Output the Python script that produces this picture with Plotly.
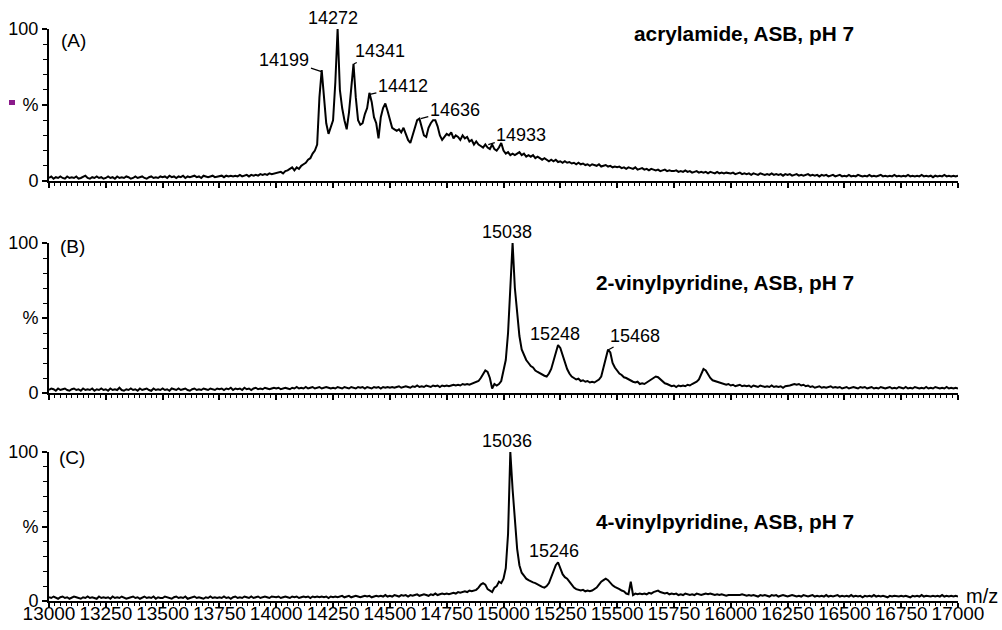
import plotly.graph_objects as go

# m/z grid (10 Da steps)
mz = list(range(13000, 17001, 10))

# (A) acrylamide, ASB, pH 7 -- relative intensity (%)
int_A = (
    [2, 3, 1.5, 2.5, 2, 3, 2, 1.5, 3, 2, 2.5, 2, 3, 1.5, 2, 2.5, 3.5, 2, 1.5, 2.5, 2, 3, 2, 2.5, 1.5]
    + [2, 3, 2, 2.5, 1.5, 3, 2, 2.5, 2, 3, 2.5, 1.5, 2, 3, 2, 2.5, 3, 2, 1.5, 2.5, 3, 2, 2.5, 2, 3]
    + [2.5, 3, 2, 3.5, 2.5, 3, 2, 3, 2.5, 3.5, 2, 3, 2.5, 3, 3.5, 2.5, 3, 2, 3.5, 3, 2.5, 3, 3.5, 2.5, 3]
    + [3, 3.5, 2.5, 3.5, 3, 3.5, 3, 3.5, 3, 4, 3, 3.5, 4, 3, 4, 3.5, 4, 3.5, 4.5, 4, 4.5, 4, 5, 4.5, 5]
    + [5, 5.5, 6, 5, 6.5, 7, 8, 9, 7, 9, 8, 10, 11, 12, 14, 15, 18, 20, 24, 55, 73, 55, 38, 31, 36]
    + [40, 65, 100, 60, 48, 40, 34, 45, 62, 77, 55, 40, 37, 38, 44, 48, 58, 52, 42, 38, 28, 42, 48, 51, 46]
    + [40, 35, 34, 33, 34, 32, 35, 31, 27, 25, 30, 36, 40, 41, 35, 30, 29, 35, 38, 40, 40, 36, 30, 27, 29]
    + [31, 30, 32, 28, 30, 29, 27, 30, 28, 29, 26, 27, 24, 26, 24, 23, 22, 24, 22, 21, 24, 21, 20, 22, 25]
    + [20, 18, 19, 17, 18, 17, 18, 19, 17, 18, 16, 17, 16, 17, 15, 16, 15, 14, 15, 14, 13, 14, 13, 14, 12.5]
    + [13, 12, 13, 12, 12.5, 11.5, 12, 11, 12, 11, 11.5, 10.5, 11, 10, 11, 10.5, 10, 11, 9.5, 10, 10.5, 9.5, 10, 9, 9.5]
    + [9, 9.5, 8.5, 9, 8, 9, 8.5, 8, 9, 7.5, 8, 8.5, 7.5, 8, 7, 8, 7.5, 7, 7.5, 6.5, 7, 7.5, 6.5, 7, 6.5]
    + [6.5, 7, 6, 6.5, 6, 7, 6, 6.5, 5.5, 6, 6.5, 5.5, 6, 5.5, 6, 5, 6, 5.5, 5, 6, 5, 5.5, 5, 5.5, 5]
    + [5, 5.5, 4.5, 5, 5.5, 4.5, 5, 4.5, 5, 4, 5, 4.5, 4, 5, 4.5, 4, 4.5, 4, 5, 4, 4.5, 4, 4.5, 3.5, 4.5]
    + [4, 4.5, 3.5, 4, 4.5, 3.5, 4, 3.5, 4, 4.5, 3.5, 4, 3.5, 4, 3, 4, 3.5, 4, 3, 3.5, 4, 3, 3.5, 4, 3]
    + [3.5, 3, 4, 3, 3.5, 3, 4, 3.5, 3, 3.5, 3, 4, 3, 3.5, 3, 3.5, 4, 3, 3.5, 3, 3.5, 3, 4, 3, 3.5]
    + [3, 3.5, 3, 4, 3, 3.5, 3, 3.5, 3, 4, 3, 3.5, 3, 3.5, 2.5, 3.5, 3, 3.5, 3, 4, 3, 3.5, 3, 3.5, 3]
    + [3.5]
)

# (B) 2-vinylpyridine, ASB, pH 7
int_B = (
    [2, 3, 2.5, 1.5, 3, 2, 2.5, 3, 2, 1.5, 2.5, 3, 2, 2.5, 1.5, 3, 2, 2.5, 2, 3, 1.5, 2.5, 2, 3, 2]
    + [2.5, 1.5, 3, 2, 2.5, 2, 3.5, 2, 1.5, 2.5, 2, 3, 2, 2.5, 1.5, 3, 2, 2.5, 3, 2, 1.5, 3, 2, 2.5, 2]
    + [3, 2, 2.5, 1.5, 3, 2.5, 2, 3, 2, 2.5, 3, 2, 1.5, 2.5, 3, 2, 2.5, 2, 3, 2.5, 2, 3, 2.5, 2, 3]
    + [2.5, 3, 2, 3, 2.5, 3.5, 2, 3, 2.5, 3, 2, 3.5, 2.5, 3, 2, 3, 3.5, 2.5, 3, 2.5, 3.5, 3, 2.5, 3, 3.5]
    + [3, 3.5, 2.5, 3, 3.5, 3, 2.5, 3.5, 3, 4, 3, 3.5, 3, 4, 3, 3.5, 4, 3, 3.5, 4, 3, 3.5, 4, 3.5, 3]
    + [3.5, 3, 4, 3.5, 3, 4, 3.5, 3, 4, 3.5, 3, 4, 3.5, 4, 3, 4, 3.5, 3, 4, 3.5, 4, 3, 4, 3.5, 4]
    + [3.5, 4, 3.5, 4, 4.5, 3.5, 4, 4.5, 4, 3.5, 4.5, 4, 5, 4, 4.5, 4, 5, 4.5, 4, 5, 4.5, 5, 4, 5, 4.5]
    + [5, 4.5, 5, 5.5, 5, 5.5, 5, 6, 5.5, 6, 5.5, 6, 6.5, 7, 8, 10, 13, 15, 14, 10, 3, 6, 5, 6, 8]
    + [14, 22, 40, 75, 100, 70, 52, 38, 29, 25, 22, 20, 18, 17, 15, 14, 13, 12, 11.5, 11, 13, 16, 22, 28, 32]
    + [30, 25, 20, 16, 13, 11, 10, 9, 9.5, 8, 8.5, 7.5, 8, 7, 7.5, 7, 8, 9, 11, 17, 24, 29, 27, 20, 17]
    + [15, 13, 12, 10.5, 10, 9, 8.5, 7.5, 7, 7.5, 6, 6.5, 6, 7, 8, 9, 10, 11, 10.5, 9, 7.5, 6.5, 6, 5, 4.5]
    + [5, 4, 5, 4.5, 5, 4.5, 5.5, 5, 6, 6.5, 7.5, 9, 12, 16, 15, 12, 10, 8.5, 8, 7.5, 7, 6.5, 6, 5.5, 6]
    + [5, 5.5, 4.5, 5, 5.5, 4.5, 5, 4.5, 5, 4, 5, 4.5, 4, 5, 4.5, 4, 4.5, 4, 5, 4, 4.5, 4, 4.5, 3.5, 4.5]
    + [4.5, 5, 5.5, 6, 5.5, 6, 5, 5.5, 4.5, 5, 4, 4.5, 3.5, 4, 4.5, 3.5, 4, 3.5, 4, 4.5, 3.5, 4, 3.5, 4, 3]
    + [3.5, 4, 3, 3.5, 4, 3.5, 3, 4, 3.5, 4, 3, 3.5, 4, 3, 3.5, 3, 4, 3.5, 3, 3.5, 4, 3, 3.5, 3, 4]
    + [3.5, 3, 4, 3, 3.5, 3, 4, 3.5, 3, 3.5, 3, 4, 3, 3.5, 3, 4, 3.5, 3, 3.5, 3, 4, 3, 3.5, 3, 3.5]
    + [3]
)

# (C) 4-vinylpyridine, ASB, pH 7
int_C = (
    [2.5, 2, 3, 2, 1.5, 2.5, 3, 2, 2.5, 1.5, 2, 3, 2.5, 2, 1.5, 2.5, 2, 3, 2, 2.5, 2, 1.5, 3, 2, 2.5]
    + [2, 2.5, 1.5, 3, 2, 2.5, 2, 3, 2.5, 1.5, 2, 2.5, 3, 2, 2.5, 1.5, 2, 3, 2, 2.5, 2, 3, 1.5, 2.5, 2]
    + [2, 3, 2.5, 2, 1.5, 2.5, 3, 2, 2.5, 2, 3, 1.5, 2, 2.5, 3, 2, 2.5, 2, 1.5, 2.5, 2, 3, 2, 2.5, 2]
    + [2.5, 2, 3, 2, 2.5, 1.5, 2.5, 3, 2, 2.5, 2, 3, 2.5, 2, 3, 2, 2.5, 3, 2, 2.5, 3, 2.5, 2, 3, 2.5]
    + [2.5, 3, 2, 2.5, 3, 2.5, 2, 3, 2.5, 3, 2, 2.5, 3, 2.5, 3, 2, 3, 2.5, 3, 2.5, 3, 2.5, 3, 2, 3]
    + [2.5, 3, 2.5, 3, 3.5, 2.5, 3, 3.5, 2.5, 3, 3.5, 3, 2.5, 3, 3.5, 3, 3.5, 2.5, 3, 3.5, 3, 3.5, 3, 4, 3]
    + [3.5, 3, 4, 3.5, 3, 4, 3.5, 4, 3, 4, 3.5, 4, 4.5, 3.5, 4, 4.5, 4, 3.5, 4.5, 4, 5, 4, 4.5, 5, 4.5]
    + [5, 4.5, 5, 5.5, 5, 6, 5.5, 6, 6.5, 6, 7, 6.5, 7, 7.5, 9, 11, 12, 11, 8, 7, 6, 9, 10, 13, 12]
    + [15, 22, 45, 100, 75, 54, 35, 24, 19, 17, 15, 14, 13, 12.5, 12, 11, 10, 9.5, 9, 10, 12, 16, 21, 24, 26]
    + [22, 18, 16, 15, 13, 11, 9, 8, 7.5, 7, 7.5, 6.5, 7, 6.5, 7, 8, 9, 11, 13, 14, 15, 14, 12, 10.5, 9.5]
    + [9, 8, 7, 6.5, 5, 4.5, 13, 4, 5, 4.5, 5, 4.5, 5, 4.5, 5.5, 5, 6, 6.5, 7, 6, 5.5, 5, 5.5, 4.5, 5]
    + [4.5, 5, 4, 4.5, 4, 5, 4.5, 4, 4.5, 4, 5, 4.5, 4, 4.5, 5, 4.5, 5, 4.5, 4, 4.5, 4, 4.5, 4, 3.5, 4]
    + [4, 3.5, 4, 3.5, 4, 4.5, 4, 3.5, 4, 3.5, 4, 3.5, 3, 4, 3.5, 4, 3.5, 3, 4, 3.5, 4, 3, 3.5, 4, 3.5]
    + [3, 3.5, 4, 3.5, 3, 3.5, 3, 4, 3.5, 3, 3.5, 4, 3, 3.5, 3, 3.5, 3, 4, 3, 3.5, 3, 3.5, 4, 3, 3.5]
    + [3, 3.5, 3, 4, 3, 3.5, 3, 3.5, 2.5, 3.5, 3, 3.5, 3, 4, 3, 3.5, 3, 3.5, 3, 2.5, 3.5, 3, 3.5, 3, 3]
    + [3.5, 3, 3.5, 3, 2.5, 3.5, 3, 3.5, 3, 4, 3, 3.5, 3, 3, 3.5, 3, 3.5, 3, 4, 3, 3.5, 3, 3.5, 3, 3.5]
    + [3]
)

panel_titles = ["acrylamide, ASB, pH 7", "2-vinylpyridine, ASB, pH 7", "4-vinylpyridine, ASB, pH 7"]
panel_letters = ["(A)", "(B)", "(C)"]
x_tickvals = list(range(13000, 17001, 250))
x_ticktext = [str(v) for v in x_tickvals]
y_tickvals = [0, 50, 100]
y_ticktext = ["0", "%", "100"]

# peak labels: (panel, label text, m/z, intensity, arrow dx, arrow dy)
peak_labels = [
    (0, "14199", 14199, 72, -37, -13),
    (0, "14272", 14272, 100, None, None),
    (0, "14341", 14341, 77, 26, -14),
    (0, "14412", 14412, 57, 33, -9),
    (0, "14636", 14636, 41, 34, -10),
    (0, "14933", 14933, 24, 33, -11),
    (1, "15038", 15038, 100, None, None),
    (1, "15248", 15248, 32, None, None),
    (1, "15468", 15464, 29, 26, -15),
    (2, "15036", 15036, 100, None, None),
    (2, "15246", 15246, 26, None, None),
]

# the page body margin is removed by the post script below, so the figure fills the window
W, H = 1002, 630
ML = 49
PW = 909
MR = W - ML - PW
FONT = "Liberation Sans, Arial, Helvetica, sans-serif"


def px_x(p):
    return (p - ML) / PW


def px_y(p):
    return 1 - p / H


# window y pixel positions (value 0, value 100) for the three panels
panel_px = [(181, 29), (393, 243), (601, 452)]

fig = go.Figure()
series = [int_A, int_B, int_C]
for i, ys in enumerate(series):
    sfx = "" if i == 0 else str(i + 1)
    fig.add_trace(go.Scatter(
        x=mz, y=ys, mode="lines", xaxis="x" + sfx, yaxis="y" + sfx,
        line=dict(color="black", width=2), showlegend=False, hoverinfo="skip",
    ))

layout = dict(
    width=W, height=H,
    margin=dict(l=ML, r=MR, t=0, b=0, autoexpand=False),
    paper_bgcolor="white", plot_bgcolor="white",
    font=dict(family=FONT, size=18, color="black"),
    showlegend=False,
)

for i in range(3):
    sfx = "" if i == 0 else str(i + 1)
    y0p, y1p = panel_px[i]
    layout["xaxis" + sfx] = dict(
        domain=[0, 1], anchor="y" + sfx, range=[13000, 17000],
        showline=True, linecolor="black", linewidth=2,
        ticks="outside", ticklen=5, tickwidth=1.5, tickcolor="black",
        tickvals=x_tickvals, ticktext=x_ticktext, showticklabels=(i == 2),
        tickfont=dict(family=FONT, size=19, color="black"),
        ticklabelstandoff=-11,
        minor=dict(dtick=25, tick0=13000, ticks="outside", ticklen=3, tickwidth=1, tickcolor="black", showgrid=False),
        showgrid=False, zeroline=False, automargin=False,
        **({} if i == 0 else {"matches": "x"}),
    )
    layout["yaxis" + sfx] = dict(
        domain=[px_y(y0p), px_y(y1p)], anchor="x" + sfx, range=[0, 100],
        showline=True, linecolor="black", linewidth=2,
        ticks="outside", ticklen=5, tickwidth=1.5, tickcolor="black",
        tickvals=y_tickvals, ticktext=y_ticktext,
        tickfont=dict(family=FONT, size=18, color="black"),
        minor=dict(dtick=10, ticks="outside", ticklen=4, tickwidth=1, tickcolor="black", showgrid=False),
        showgrid=False, zeroline=False, automargin=False,
    )

fig.update_layout(**layout)

annotations = []
title_y = [33, 282, 521]
letter_pos = [(73, 40), (72, 247), (72, 457)]
for i in range(3):
    annotations.append(dict(
        text="<b>" + panel_titles[i] + "</b>", xref="paper", yref="paper",
        x=px_x(856), y=px_y(title_y[i]), xanchor="right", yanchor="middle",
        showarrow=False, font=dict(family=FONT, size=20.8, color="black"),
    ))
    annotations.append(dict(
        text=panel_letters[i], xref="paper", yref="paper",
        x=px_x(letter_pos[i][0]), y=px_y(letter_pos[i][1]), xanchor="center", yanchor="middle",
        showarrow=False, font=dict(family=FONT, size=19, color="black"),
    ))

for (p, txt, xv, yv, dx, dy) in peak_labels:
    sfx = "" if p == 0 else str(p + 1)
    a = dict(text=txt, xref="x" + sfx, yref="y" + sfx, x=xv, y=yv,
             font=dict(family=FONT, size=18, color="black"))
    if dx is None:
        a.update(showarrow=False, xanchor="center", yanchor="bottom", xshift=-5, yshift=-1)
    else:
        a.update(showarrow=True, arrowhead=0, arrowwidth=1.3, arrowcolor="black",
                 ax=dx, ay=dy + 1, standoff=0)
    annotations.append(a)

annotations.append(dict(
    text="m/z", xref="paper", yref="paper", x=px_x(964), y=px_y(596),
    xanchor="left", yanchor="middle", showarrow=False,
    font=dict(family=FONT, size=20, color="black"),
))

fig.update_layout(annotations=annotations)

# small purple marker at the left of panel A's "%" label
fig.add_shape(type="rect", xref="paper", yref="paper",
              x0=px_x(9), x1=px_x(15), y0=px_y(105), y1=px_y(100),
              fillcolor="#8a1a8a", line=dict(width=0))

fig.write_html(
    "out.html",
    config={"displayModeBar": False},
    post_script="document.body.style.margin='0';document.body.style.overflow='hidden';",
)
